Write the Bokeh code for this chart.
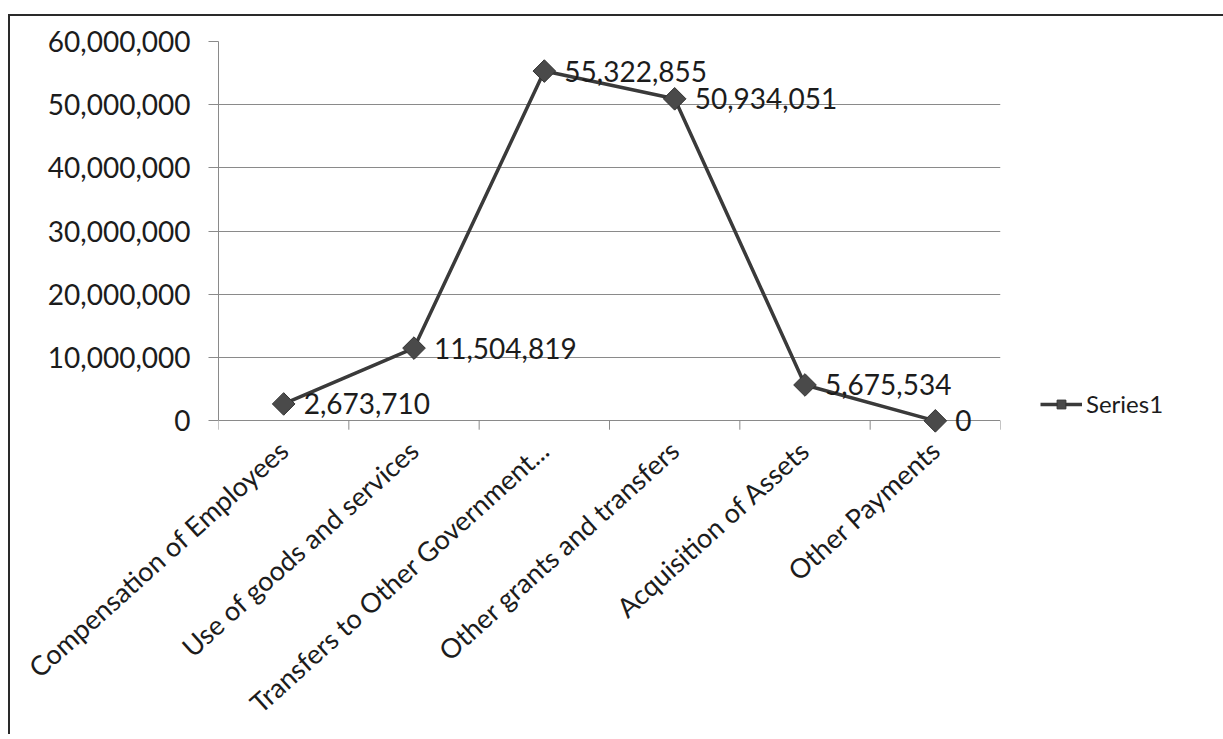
from bokeh.plotting import figure
from bokeh.models import (Range1d, LinearAxis, FixedTicker, Label,
                          NumeralTickFormatter, Legend, LegendItem)
from bokeh.embed import file_html
from bokeh.resources import INLINE
import math

# ---- data ----
categories = ["Compensation of Employees", "Use of goods and services",
              "Transfers to Other Government...", "Other grants and transfers",
              "Acquisition of Assets", "Other Payments"]
series1 = [2673710, 11504819, 55322855, 50934051, 5675534, 0]
y_ticks = [0, 10000000, 20000000, 30000000, 40000000, 50000000, 60000000]
series_name = "Series1"

FONT = "Lato"
TXT = "#1c1c1c"
LINE_C = "#3a3a3a"
GRID_C = "#8a8a8a"

n = len(categories)
xpos = [i + 0.5 for i in range(n)]          # category centres on a 0..n axis
bounds = list(range(n + 1))                 # category boundaries
y_min, y_max = 0, 60000000
y_pad = 2000000                             # room below the zero line (ticks, "0" label)
tick_len = 1400000                          # separator tick length in data units

p = figure(x_range=Range1d(0, n),
           y_range=Range1d(y_min - y_pad, y_max),
           frame_width=782, frame_height=392,
           min_border_left=208, min_border_right=225,
           min_border_top=25, min_border_bottom=0,
           x_axis_location=None, y_axis_location=None,
           output_backend="svg", toolbar_location=None)
p.margin = (14, 0, 0, 8)
p.styles = {"border-left": "2px solid #2a2a2a", "border-top": "2px solid #2a2a2a"}
p.outline_line_color = None
p.background_fill_color = "white"
p.border_fill_color = "white"

# y axis
yax = LinearAxis(ticker=FixedTicker(ticks=y_ticks),
                 formatter=NumeralTickFormatter(format="0,0"),
                 bounds=(y_min, y_max))
yax.axis_line_color = GRID_C
yax.major_tick_line_color = GRID_C
yax.major_tick_out = 10
yax.major_tick_in = 0
yax.minor_tick_line_color = None
yax.major_label_standoff = 18
yax.major_label_text_font = FONT
yax.major_label_text_font_size = "28px"
yax.major_label_text_color = TXT
p.add_layout(yax, "left")

# category label axis
cax = LinearAxis(ticker=FixedTicker(ticks=xpos, minor_ticks=[]),
                 major_label_overrides={x: c for x, c in zip(xpos, categories)})
cax.axis_line_color = None
cax.major_tick_line_color = None
cax.major_tick_out = 0
cax.major_tick_in = 0
cax.minor_tick_line_color = None
cax.major_label_orientation = math.radians(42)
cax.major_label_standoff = 12
cax.major_label_text_font = FONT
cax.major_label_text_font_size = "27px"
cax.major_label_text_color = TXT
p.add_layout(cax, "below")

# horizontal gridlines (incl. the zero line acting as the category axis line)
p.xgrid.grid_line_color = None
p.ygrid.ticker = FixedTicker(ticks=y_ticks)
p.ygrid.grid_line_color = GRID_C
p.ygrid.grid_line_width = 1

# separator ticks between categories, hanging below the zero line
p.segment(x0=bounds, y0=[y_min] * len(bounds), x1=bounds,
          y1=[y_min - tick_len] * len(bounds), line_color=GRID_C, line_width=1)

ln = p.line(xpos, series1, line_color=LINE_C, line_width=3.5)
mk = p.scatter(xpos, series1, marker="square", angle=math.pi / 4, size=16,
               fill_color="#4a4a4a", line_color="#333333", line_width=1)

# data labels (right of each point)
for x, v in zip(xpos, series1):
    p.add_layout(Label(x=x, y=v, text=f"{v:,}", x_offset=20,
                       text_baseline="middle", text_font=FONT,
                       text_font_size="28px", text_color=TXT))

legend = Legend(items=[LegendItem(label=series_name, renderers=[ln, mk])],
                location=(40, 15), orientation="vertical",
                glyph_width=42, glyph_height=22, label_standoff=4,
                padding=0, margin=0, border_line_color=None,
                background_fill_alpha=0,
                label_text_font=FONT, label_text_font_size="24px",
                label_text_color=TXT)
p.add_layout(legend, "right")

open("out.html", "w").write(file_html(p, INLINE))
